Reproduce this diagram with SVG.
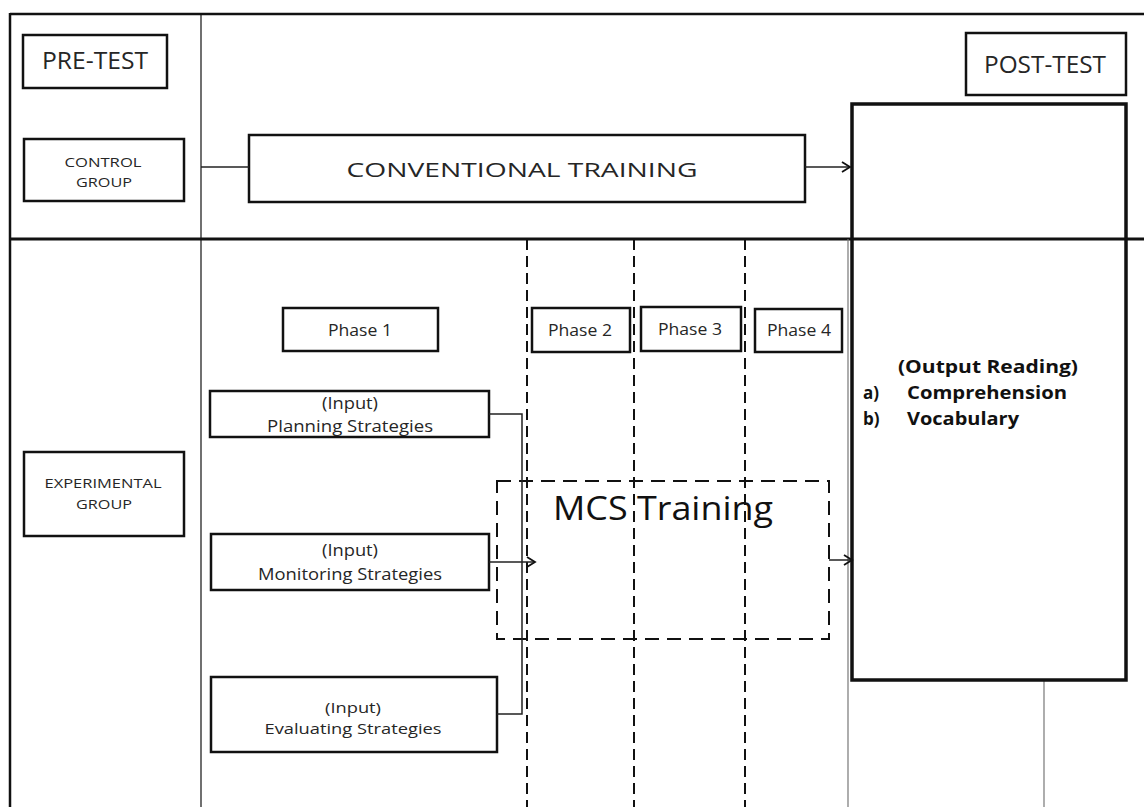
<svg xmlns="http://www.w3.org/2000/svg" width="1144" height="807" viewBox="0 0 1144 807">
<style>
.box{fill:#fff;stroke:#111;stroke-width:2.5}
.thin{fill:none;stroke:#222;stroke-width:1.5}
.grid{fill:none;stroke:#111}
.dash{fill:none;stroke:#111;stroke-width:2;stroke-dasharray:11 6}
.t{font-family:"Open Sans","Liberation Sans",Arial,sans-serif;fill:#262626;text-anchor:middle}
.b{font-family:"Open Sans","Liberation Sans",Arial,sans-serif;fill:#111;font-weight:bold}
</style>
<defs>
<marker id="arr" markerWidth="12" markerHeight="12" refX="10" refY="6" orient="auto" markerUnits="userSpaceOnUse">
<polyline points="2,1 10,6 2,11" fill="none" stroke="#111" stroke-width="1.8"/>
</marker>
</defs>
<rect width="1144" height="807" fill="#fff"/>
<g id="frame">
<line class="grid" x1="10" y1="14" x2="1144" y2="14" stroke-width="2.5"/>
<line class="grid" x1="10" y1="13" x2="10" y2="807" stroke-width="2.5"/>
<line class="grid" x1="201" y1="14" x2="201" y2="807" stroke-width="1.2"/>
<line class="grid" x1="10" y1="239" x2="1144" y2="239" stroke-width="3"/>
<line x1="848" y1="239" x2="848" y2="807" stroke="#777" stroke-width="1.2"/>
<line x1="1044" y1="680" x2="1044" y2="807" stroke="#777" stroke-width="1.2"/>
<line class="dash" x1="527" y1="239" x2="527" y2="807"/>
<line class="dash" x1="634" y1="239" x2="634" y2="807"/>
<line class="dash" x1="745" y1="239" x2="745" y2="807"/>
</g>
<g id="post-output">
<rect x="852" y="104" width="274" height="576" fill="none" stroke="#111" stroke-width="3.5"/>
<text class="b" x="898" y="373" font-size="17" textLength="180" lengthAdjust="spacingAndGlyphs">(Output  Reading)</text>
<text class="b" x="863" y="399" font-size="17">a)</text>
<text class="b" x="907" y="399" font-size="17" textLength="160" lengthAdjust="spacingAndGlyphs">Comprehension</text>
<text class="b" x="863" y="425" font-size="17">b)</text>
<text class="b" x="907" y="425" font-size="17" textLength="112" lengthAdjust="spacingAndGlyphs">Vocabulary</text>
</g>
<g id="pre-test">
<rect class="box" x="23" y="35" width="144" height="53" stroke-width="3"/>
<text class="t" x="95" y="69" font-size="24" textLength="106" lengthAdjust="spacingAndGlyphs">PRE-TEST</text>
</g>
<g id="post-test">
<rect class="box" x="966" y="33" width="160" height="62" stroke-width="3"/>
<text class="t" x="1045" y="73" font-size="24" textLength="122" lengthAdjust="spacingAndGlyphs">POST-TEST</text>
</g>
<g id="control-group">
<rect class="box" x="24" y="139" width="160" height="62" stroke-width="3"/>
<text class="t" x="103" y="167" font-size="13.5" textLength="77" lengthAdjust="spacingAndGlyphs">CONTROL</text>
<text class="t" x="104" y="187" font-size="13.5" textLength="56" lengthAdjust="spacingAndGlyphs">GROUP</text>
</g>
<g id="conventional-training">
<rect class="box" x="249" y="135" width="556" height="67" stroke-width="3"/>
<text class="t" x="522" y="177" font-size="20" textLength="351" lengthAdjust="spacingAndGlyphs">CONVENTIONAL TRAINING</text>
</g>
<g id="experimental-group">
<rect class="box" x="24" y="452" width="160" height="84" stroke-width="3"/>
<text class="t" x="103" y="488" font-size="13.5" textLength="117" lengthAdjust="spacingAndGlyphs">EXPERIMENTAL</text>
<text class="t" x="104" y="509" font-size="13.5" textLength="56" lengthAdjust="spacingAndGlyphs">GROUP</text>
</g>
<g id="phase1">
<rect class="box" x="283" y="308" width="155" height="43" stroke-width="2"/>
<text class="t" x="360" y="336" font-size="16" textLength="64" lengthAdjust="spacingAndGlyphs">Phase 1</text>
</g>
<g id="phase2">
<rect class="box" x="532" y="308" width="98" height="44" stroke-width="2"/>
<text class="t" x="580" y="336" font-size="16" textLength="64" lengthAdjust="spacingAndGlyphs">Phase 2</text>
</g>
<g id="phase3">
<rect class="box" x="641" y="307" width="100" height="44" stroke-width="2"/>
<text class="t" x="690" y="335" font-size="16" textLength="64" lengthAdjust="spacingAndGlyphs">Phase 3</text>
</g>
<g id="phase4">
<rect class="box" x="755" y="309" width="87" height="43" stroke-width="2"/>
<text class="t" x="799" y="336" font-size="16" textLength="64" lengthAdjust="spacingAndGlyphs">Phase 4</text>
</g>
<g id="planning">
<rect class="box" x="210" y="391" width="279" height="46" stroke-width="2"/>
<text class="t" x="350" y="409" font-size="15.5" textLength="56" lengthAdjust="spacingAndGlyphs">(Input)</text>
<text class="t" x="350" y="432" font-size="15.5" textLength="166" lengthAdjust="spacingAndGlyphs">Planning Strategies</text>
</g>
<g id="monitoring">
<rect class="box" x="211" y="534" width="278" height="56" stroke-width="2"/>
<text class="t" x="350" y="556" font-size="16" textLength="56" lengthAdjust="spacingAndGlyphs">(Input)</text>
<text class="t" x="350" y="580" font-size="16" textLength="184" lengthAdjust="spacingAndGlyphs">Monitoring Strategies</text>
</g>
<g id="evaluating">
<rect class="box" x="211" y="677" width="286" height="75" stroke-width="2"/>
<text class="t" x="353" y="713" font-size="15" textLength="56" lengthAdjust="spacingAndGlyphs">(Input)</text>
<text class="t" x="353" y="734" font-size="15" textLength="177" lengthAdjust="spacingAndGlyphs">Evaluating Strategies</text>
</g>
<g id="mcs-training">
<rect x="497" y="481" width="332" height="158" fill="none" stroke="#111" stroke-width="2" stroke-dasharray="14 8"/>
<text x="553" y="520" font-family="'Open Sans','Liberation Sans',Arial,sans-serif" font-size="32" fill="#111" textLength="220" lengthAdjust="spacingAndGlyphs">MCS Training</text>
</g>
<g id="connectors">
<line class="thin" x1="201" y1="167" x2="249" y2="167"/>
<line class="thin" x1="805" y1="167" x2="850" y2="167" marker-end="url(#arr)"/>
<polyline class="thin" points="489,414 522,414 522,714 497,714"/>
<line class="thin" x1="489" y1="562" x2="535" y2="562" marker-end="url(#arr)"/>
<line class="thin" x1="829" y1="560" x2="852" y2="560" marker-end="url(#arr)"/>
</g>
</svg>
